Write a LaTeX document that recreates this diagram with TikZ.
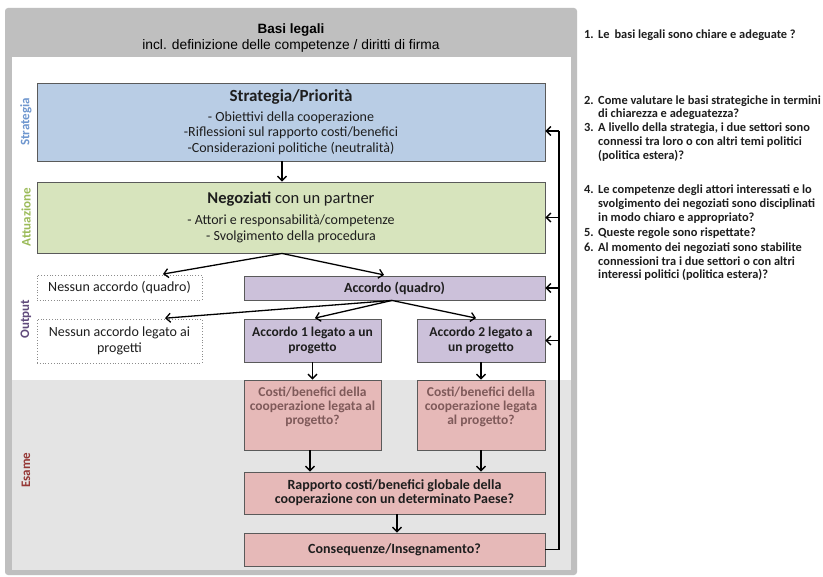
\documentclass[tikz,border=0pt]{standalone}
\usepackage{fontspec}
\setmainfont{Carlito}
\newfontfamily\arialf{Liberation Sans}
\usetikzlibrary{arrows.meta}
\definecolor{framegray}{HTML}{BFBFBF}
\definecolor{esamebg}{HTML}{E4E4E4}
\definecolor{boxline}{HTML}{5A5A5A}
\definecolor{dotline}{HTML}{8C8C8C}
\definecolor{bluefill}{HTML}{B9CDE5}
\definecolor{greenfill}{HTML}{D7E4BD}
\definecolor{purplefill}{HTML}{CCC1DA}
\definecolor{pinkfill}{HTML}{E6B9B8}
\definecolor{labblue}{HTML}{6F97CF}
\definecolor{labgreen}{HTML}{9BBB59}
\definecolor{labpurple}{HTML}{604A7B}
\definecolor{labred}{HTML}{953735}
\definecolor{txt}{HTML}{1E1E1E}
\definecolor{pinktxt}{HTML}{7F5A5A}
\begin{document}
\begin{tikzpicture}[x=1pt,y=-1pt,
  box/.style={draw=boxline, line width=0.9pt, align=center, inner sep=0pt, text=txt, font=\fontsize{14}{15.5}\selectfont},
  dotbox/.style={draw=dotline, dotted, line width=0.8pt, align=center, inner sep=0pt, text=txt, font=\fontsize{14}{16.5}\selectfont},
  arr/.style={-{Straight Barb[length=4.5pt,width=9pt]}, line width=1.3pt},
  fbline/.style={line width=1.3pt},
  lab/.style={rotate=90, inner sep=0pt, font=\fontsize{13}{13}\selectfont\bfseries},
  qnum/.style={anchor=base west, inner sep=0pt, text=txt, font=\fontsize{12.4}{13.8}\selectfont\bfseries},
  qtxt/.style={anchor=base west, inner sep=0pt, text=txt, font=\fontsize{12.4}{13.8}\selectfont\bfseries},
  pinktext/.style={anchor=north, align=center, inner sep=0pt, text=pinktxt, font=\fontsize{13.5}{14}\selectfont\bfseries},
]
\useasboundingbox (0,0) rectangle (823,577);
\fill[white] (0,0) rectangle (823,577);
% frame
\fill[framegray, rounded corners=3pt] (5,8) rectangle (577,575);
\fill[white] (12,57) rectangle (571,380);
\fill[esamebg] (12,380) rectangle (571,570);
% header
\node[anchor=base, inner sep=0pt, font=\arialf\bfseries\fontsize{13.5}{15}\selectfont] (h1) at (291,34) {Basi legali};
\node[anchor=base, inner sep=0pt, font=\arialf\fontsize{13.8}{15}\selectfont] (h2) at (291,50) {incl. definizione delle competenze / diritti di firma};
% side labels
\node[lab, text=labblue] (lstrat) at (26,122) {Strategia};
\node[lab, text=labgreen] (latt) at (26,217) {Attuazione};
\node[lab, text=labpurple] (lout) at (26,319) {Output};
\node[lab, text=labred] (lesa) at (26,470) {Esame};
% boxes
\node[box, fill=bluefill, minimum width=508, minimum height=78] (blue) at (291,122)
  {{\fontsize{17}{20}\selectfont\bfseries Strategia/Priorità}\\[4.5pt]
   - Obiettivi della cooperazione\\
   -Riflessioni sul rapporto costi/benefici\\
   -Considerazioni politiche (neutralità)};
\node[box, fill=greenfill, minimum width=508, minimum height=71] (green) at (291,217.5)
  {{\fontsize{16.5}{20}\selectfont\textbf{Negoziati} con un partner}\\[5.5pt]
   - Attori e responsabilità/competenze\\
   - Svolgimento della procedura};
\node[dotbox, minimum width=165, minimum height=25] (nq) at (119.5,287.5) {Nessun accordo (quadro)};
\node[box, fill=purplefill, minimum width=301, minimum height=24, font=\fontsize{14}{15}\selectfont\bfseries] (aq) at (394.5,288) {Accordo (quadro)};
\node[dotbox, minimum width=165, minimum height=44] (nl) at (119.5,341) {Nessun accordo legato ai\\progetti};
\node[box, fill=purplefill, minimum width=137, minimum height=43, font=\fontsize{13.5}{15}\selectfont\bfseries] (a1) at (312.5,340.5) {Accordo 1 legato a un\\progetto};
\node[box, fill=purplefill, minimum width=128, minimum height=43, font=\fontsize{13.5}{15}\selectfont\bfseries] (a2) at (481,340.5) {Accordo 2 legato a\\un progetto};
\node[box, fill=pinkfill, minimum width=137, minimum height=70] (p1) at (312.5,415) {};
\node[box, fill=pinkfill, minimum width=128, minimum height=70] (p2) at (481,415) {};
\node[pinktext] (p1t) at ([yshift=-7pt]p1.north) {Costi/benefici della\\cooperazione legata al\\progetto?};
\node[pinktext] (p2t) at ([yshift=-7pt]p2.north) {Costi/benefici della\\cooperazione legata\\al progetto?};
\node[box, fill=pinkfill, minimum width=301, minimum height=42, font=\fontsize{14}{14.3}\selectfont\bfseries] (rap) at (394.5,493) {Rapporto costi/benefici globale della\\cooperazione con un determinato Paese?};
\node[box, fill=pinkfill, minimum width=301, minimum height=33, font=\fontsize{14}{15}\selectfont\bfseries] (con) at (394.5,549.5) {Consequenze/Insegnamento?};
% arrows
\draw[arr] ([xshift=-9pt]blue.south) -- ([xshift=-9pt]green.north);
\draw[arr, shorten >=3pt] ([xshift=-9pt]green.south) -- ([xshift=40.5pt]nq.north);
\draw[arr, shorten >=3pt] ([xshift=-9pt]green.south) -- ([xshift=-7.5pt]aq.north);
\draw[arr, shorten >=5pt] ([xshift=-2.5pt]aq.south) -- ([xshift=40.5pt]nl.north);
\draw[arr, shorten >=2pt] ([xshift=-2.5pt]aq.south) -- ([xshift=0.5pt]a1.north);
\draw[arr, shorten >=2pt] ([xshift=-2.5pt]aq.south) -- ([xshift=-3pt]a2.north);
\draw[arr] (a1.south) -- (p1.north);
\draw[arr] (a2.south) -- (p2.north);
\draw[arr] ([xshift=-2.5pt]p1.south) -- ([xshift=-2.5pt]p1.south |- rap.north);
\draw[arr] (p2.south) -- (p2.south |- rap.north);
\draw[arr] ([xshift=2.5pt]rap.south) -- ([xshift=2.5pt]con.north);
% feedback loop
\coordinate (fbtop) at (559,131);
\draw[fbline] (con.east) -| (fbtop);
\draw[arr] (fbtop) -- (fbtop -| blue.east);
\draw[arr] (green.east -| fbtop) -- (green.east);
\draw[arr] (aq.east -| fbtop) -- (aq.east);
\draw[arr] (a2.east -| fbtop) -- (a2.east);
% questions
\node[qnum] (n1) at (584,39) {1.};
\node[qtxt] (q1) at (598,39) {Le\, basi legali sono chiare e adeguate ?};
\node[qnum] (n2) at (584,104.5) {2.};
\node[qtxt] (q2a) at (598,104.5) {Come valutare le basi strategiche in termini};
\node[qtxt] (q2b) at (598,118) {di chiarezza e adeguatezza?};
\node[qnum] (n3) at (584,132) {3.};
\node[qtxt] (q3a) at (598,132) {A livello della strategia, i due settori sono};
\node[qtxt] (q3b) at (598,146) {connessi tra loro o con altri temi politici};
\node[qtxt] (q3c) at (598,159.5) {(politica estera)?};
\node[qnum] (n4) at (584,194) {4.};
\node[qtxt] (q4a) at (598,194) {Le competenze degli attori interessati e lo};
\node[qtxt] (q4b) at (598,208) {svolgimento dei negoziati sono disciplinati};
\node[qtxt] (q4c) at (598,222) {in modo chiaro e appropriato?};
\node[qnum] (n5) at (584,237) {5.};
\node[qtxt] (q5) at (598,237) {Queste regole sono rispettate?};
\node[qnum] (n6) at (584,252) {6.};
\node[qtxt] (q6a) at (598,252) {Al momento dei negoziati sono stabilite};
\node[qtxt] (q6b) at (598,266) {connessioni tra i due settori o con altri};
\node[qtxt] (q6c) at (598,279) {interessi politici (politica estera)?};
\end{tikzpicture}
\end{document}
